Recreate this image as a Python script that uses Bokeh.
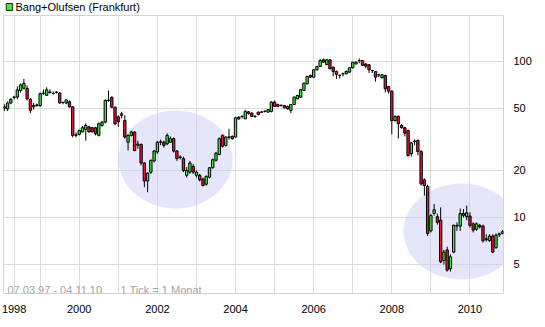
import pandas as pd
from bokeh.plotting import figure
from bokeh.layouts import column
from bokeh.models import (Range1d, FixedTicker, Label, ColumnDataSource,
                          NumeralTickFormatter)
from bokeh.core.properties import value
from bokeh.embed import file_html
from bokeh.resources import INLINE

# ---------------- data (monthly candles, Bang+Olufsen, Frankfurt) ----------------
months = pd.date_range("1998-02-01", periods=154, freq="MS")

open_ = [50.0, 49.5, 54.0, 58.5, 59.0, 65.0, 67.0, 67.0, 57.0, 51.0,
         52.0, 52.0, 62.0, 60.5, 63.0, 62.0, 63.5, 62.5, 54.5, 54.0,
         55.0, 51.0, 33.8, 34.0, 35.2, 36.5, 38.0, 37.5, 37.5, 33.5,
         38.8, 40.7, 56.0, 58.8, 50.8, 44.0, 45.0, 41.8, 30.3, 33.5,
         35.2, 29.0, 29.3, 22.3, 17.1, 19.5, 23.0, 26.2, 30.3, 30.3,
         29.6, 30.3, 31.9, 26.6, 24.2, 23.8, 18.6, 19.5, 21.2, 18.6,
         18.6, 17.6, 16.3, 18.1, 20.8, 23.2, 25.3, 33.5, 28.9, 32.5,
         33.0, 32.7, 42.8, 44.2, 42.8, 47.4, 46.5, 44.2, 47.2, 47.1,
         47.6, 47.2, 47.7, 54.7, 52.8, 52.1, 52.0, 51.3, 48.4, 52.8,
         57.4, 58.8, 65.0, 71.7, 81.0, 79.0, 88.0, 92.5, 102.0, 95.0,
         102.0, 91.5, 86.0, 81.2, 83.0, 83.0, 85.0, 90.7, 96.0, 100.8,
         101.0, 96.0, 94.8, 87.0, 85.9, 81.6, 78.3, 81.0, 68.9, 64.3,
         41.7, 44.3, 38.8, 37.5, 36.0, 25.6, 30.6, 31.1, 26.4, 17.4,
         15.8, 8.2, 10.6, 10.1, 9.6, 5.3, 6.2, 4.7, 6.0, 8.8,
         8.8, 10.6, 10.1, 10.2, 9.1, 8.4, 8.9, 8.8, 7.2, 7.1,
         7.6, 6.4, 7.75, 7.9]

high = [53.0, 55.0, 58.0, 60.0, 69.0, 72.0, 77.0, 70.0, 58.0, 54.0,
        53.5, 63.0, 66.0, 68.0, 66.0, 64.0, 64.0, 63.5, 55.0, 57.0,
        56.0, 51.5, 35.0, 36.5, 38.5, 40.0, 38.5, 38.0, 38.0, 40.5,
        41.5, 57.0, 65.0, 59.5, 51.0, 45.0, 47.5, 45.0, 34.0, 36.0,
        35.5, 31.0, 29.8, 22.5, 19.5, 23.5, 27.0, 30.8, 31.5, 31.0,
        34.5, 33.0, 32.5, 27.0, 25.0, 24.5, 21.0, 23.0, 22.0, 20.0,
        19.0, 18.0, 18.6, 21.0, 23.8, 26.2, 32.5, 34.0, 33.0, 36.9,
        33.5, 44.0, 44.5, 45.0, 48.5, 48.0, 47.0, 45.0, 47.5, 48.0,
        48.5, 49.5, 55.5, 56.0, 53.5, 53.0, 52.5, 52.0, 53.0, 59.5,
        61.0, 66.5, 73.0, 80.5, 82.0, 89.0, 93.5, 103.0, 104.0, 103.0,
        103.0, 92.0, 87.0, 82.0, 84.5, 87.0, 91.5, 99.0, 99.5, 104.0,
        102.0, 97.0, 96.0, 88.0, 86.5, 83.0, 82.5, 82.0, 69.5, 65.0,
        45.0, 45.0, 39.5, 38.0, 36.5, 30.5, 31.5, 31.5, 27.0, 17.8,
        16.2, 10.5, 12.2, 10.6, 11.6, 6.2, 6.5, 5.8, 9.0, 9.3,
        11.4, 11.3, 11.9, 10.8, 9.3, 9.3, 9.1, 9.0, 7.8, 7.8,
        7.8, 7.9, 8.0, 8.3]

low = [48.0, 48.0, 53.0, 57.0, 57.0, 63.0, 66.0, 56.0, 46.5, 49.0,
       51.0, 51.0, 61.0, 60.0, 62.0, 61.0, 62.0, 53.5, 53.0, 53.0,
       50.5, 32.5, 32.5, 33.5, 35.0, 31.0, 35.0, 35.0, 33.5, 33.0,
       38.0, 40.0, 55.0, 50.0, 39.0, 38.0, 43.0, 32.0, 26.8, 33.0,
       26.5, 27.5, 21.5, 15.6, 14.5, 19.0, 22.5, 25.5, 29.0, 28.0,
       29.0, 30.0, 26.0, 23.0, 23.5, 19.5, 18.0, 19.0, 19.0, 18.0,
       17.0, 15.8, 16.0, 17.8, 20.5, 22.8, 25.0, 28.0, 28.5, 31.5,
       31.5, 32.5, 42.0, 43.0, 42.5, 45.5, 44.0, 43.5, 45.0, 46.5,
       47.0, 47.0, 47.0, 51.0, 51.0, 51.5, 50.0, 49.0, 46.5, 52.5,
       57.0, 58.5, 64.5, 71.0, 78.5, 78.5, 87.5, 92.0, 98.0, 94.5,
       89.0, 80.0, 77.0, 77.5, 80.0, 82.5, 84.5, 90.0, 95.5, 97.0,
       93.0, 90.0, 84.0, 84.0, 74.0, 79.0, 77.5, 63.0, 62.0, 34.0,
       41.0, 32.0, 37.0, 33.0, 24.5, 24.5, 29.0, 25.0, 16.0, 13.8,
       7.6, 8.0, 10.3, 9.0, 5.1, 5.0, 4.5, 4.5, 5.9, 8.2,
       8.2, 10.0, 9.6, 8.6, 8.0, 8.2, 8.5, 6.9, 7.0, 7.0,
       5.9, 6.3, 7.5, 7.8]

close = [51.0, 54.0, 57.0, 59.0, 65.5, 70.5, 72.0, 57.5, 48.5, 52.0,
         52.5, 62.0, 62.5, 65.5, 63.5, 62.3, 63.2, 54.0, 54.3, 56.5,
         51.0, 33.5, 33.5, 36.0, 37.5, 38.8, 35.2, 35.3, 34.3, 39.8,
         40.7, 56.0, 56.3, 50.8, 39.8, 41.0, 46.0, 32.7, 33.5, 35.2,
         26.8, 29.5, 22.3, 17.1, 19.2, 23.2, 26.6, 30.3, 30.5, 28.9,
         33.5, 31.9, 26.6, 23.8, 24.4, 20.0, 20.0, 22.3, 19.5, 19.5,
         17.4, 16.0, 18.3, 20.8, 23.4, 25.8, 31.9, 28.5, 32.7, 32.8,
         31.9, 43.4, 43.8, 44.4, 47.7, 46.3, 44.3, 44.4, 45.6, 47.3,
         47.8, 48.9, 54.7, 51.3, 51.3, 51.9, 50.3, 49.6, 52.8, 58.8,
         60.3, 65.6, 72.3, 79.8, 79.0, 88.0, 92.5, 101.0, 98.5, 102.0,
         89.4, 86.0, 82.2, 81.0, 83.2, 86.0, 90.7, 98.5, 98.5, 101.0,
         94.0, 93.0, 88.1, 87.2, 79.0, 81.8, 81.8, 66.6, 64.3, 41.7,
         44.3, 39.8, 37.5, 34.6, 24.9, 30.0, 30.8, 26.4, 16.4, 16.0,
         7.9, 10.3, 11.2, 9.3, 5.2, 6.0, 4.6, 5.6, 8.9, 8.9,
         10.6, 10.3, 10.7, 8.9, 8.3, 9.1, 8.7, 7.1, 7.3, 7.6,
         6.0, 7.7, 7.85, 8.1]

y_ticks = [5, 10, 20, 50, 100]
year_labels = ["1998", "2000", "2002", "2004", "2006", "2008", "2010"]
series_name = "Bang+Olufsen (Frankfurt)"
period_text = "07.03.97 - 04.11.10"
tick_text = "1 Tick = 1 Monat"

# ---------------- derived columns ----------------
m = [(d.year - 1998) * 12 + (d.month - 1) for d in months]   # months since Jan 1998
up = [c >= o for o, c in zip(open_, close)]
GREEN = "#33f033"
RED = "#ee1438"
src = ColumnDataSource(dict(
    m=m, o=open_, h=high, l=low, c=close,
    top=[max(o, c) for o, c in zip(open_, close)],
    bottom=[min(o, c) for o, c in zip(open_, close)],
    color=[GREEN if u else RED for u in up],
))

FONT = "Liberation Sans"

# ---------------- legend strip (top) ----------------
head = figure(width=545, height=15, output_backend="svg", toolbar_location=None,
              title=None, x_range=Range1d(0, 545), y_range=Range1d(15, 0),
              min_border=0, outline_line_color=None)
head.axis.visible = False
head.grid.visible = False
head.rect(x=[6.5], y=[6.5], width=7, height=7, fill_color=GREEN, line_color="#222222")
head.text(x=[13], y=[6.8], text=[series_name], text_font=value(FONT),
          text_font_size="11px", text_baseline="middle", text_color="black")

# ---------------- main chart ----------------
p = figure(width=545, height=312, output_backend="svg", toolbar_location=None,
           title=None, y_axis_type="log", y_axis_location="right",
           x_range=Range1d(0.74, 154.3), y_range=Range1d(3.26, 196),
           min_border_left=3, min_border_right=42, min_border_top=0,
           min_border_bottom=34, background_fill_color="white",
           border_fill_color="white")

# highlight ellipses (annotations)
p.ellipse(x=[53.6], y=[23.5], width=114, height=98, width_units="screen",
          height_units="screen", fill_color="#c8c8f5", fill_alpha=0.45, line_color=None)
p.ellipse(x=[141.4], y=[8.13], width=116, height=96, width_units="screen",
          height_units="screen", fill_color="#c8c8f5", fill_alpha=0.45, line_color=None)

# candles
p.segment(x0="m", y0="l", x1="m", y1="h", source=src, line_color="black", line_width=1)
p.vbar(x="m", width=0.72, top="top", bottom="bottom", source=src,
       fill_color="color", line_color="black", line_width=1)

# grid / frame
year_ticks = [4] + list(range(12, 145, 12))
label_ticks = [4] + list(range(24, 145, 24))
p.xgrid.ticker = FixedTicker(ticks=year_ticks)
p.ygrid.ticker = FixedTicker(ticks=y_ticks)
p.xgrid.grid_line_color = "#dcdcdc"
p.ygrid.grid_line_color = "#dcdcdc"
p.outline_line_color = "#d4d4d4"

# axes
p.xaxis.ticker = FixedTicker(ticks=label_ticks)
p.xaxis.major_label_overrides = {t: lab for t, lab in zip(label_ticks, year_labels)}
p.xaxis.axis_line_color = None
p.xaxis.major_tick_line_color = None
p.xaxis.minor_tick_line_color = None
p.xaxis.major_label_standoff = 5
p.xaxis.major_label_text_font = FONT
p.xaxis.major_label_text_font_size = "11px"
p.xaxis.major_label_text_color = "black"

p.yaxis.ticker = FixedTicker(ticks=y_ticks)
p.yaxis.formatter = NumeralTickFormatter(format="0")
p.yaxis.axis_line_color = None
p.yaxis.major_tick_line_color = None
p.yaxis.minor_tick_line_color = None
p.yaxis.major_label_standoff = 4
p.yaxis.major_label_text_font = FONT
p.yaxis.major_label_text_font_size = "11px"
p.yaxis.major_label_text_color = "black"

# footer texts inside the frame
p.add_layout(Label(x=1.97, y=3.41, text=period_text, text_font=FONT,
                   text_font_size="11px", text_color="#a3a3a3", text_baseline="alphabetic"))
p.add_layout(Label(x=36.7, y=3.41, text=tick_text, text_font=FONT,
                   text_font_size="11px", text_color="#a3a3a3", text_baseline="alphabetic"))

layout = column(head, p, spacing=0)
open("out.html", "w").write(file_html(layout, INLINE))
